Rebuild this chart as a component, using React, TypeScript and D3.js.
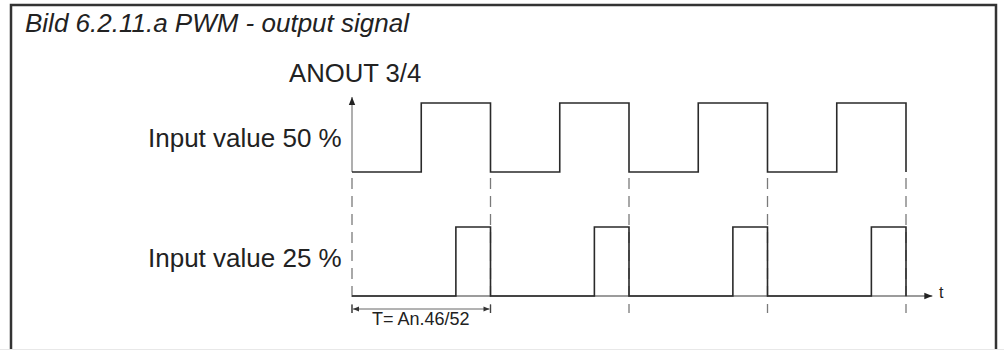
import React from "react";
import * as d3 from "d3";

// ---- data ----
const periods = [0, 1, 2, 3, 4];
const times50 = [0, 0.5, 1, 1.5, 2, 2.5, 3, 3.5, 4];
const levels50 = [0, 1, 0, 1, 0, 1, 0, 1, 0];
const times25 = [0, 0.75, 1, 1.75, 2, 2.75, 3, 3.75, 4];
const levels25 = [0, 1, 0, 1, 0, 1, 0, 1, 0];
const timeAxisEnd = 4.19;
const titleText = "Bild 6.2.11.a PWM - output signal";
const yAxisLabel = "ANOUT 3/4";
const rowLabels = ["Input value 50 %", "Input value 25 %"];
const periodLabel = "T= An.46/52";
const timeLabel = "t";

const W = 1004;
const H = 350;
const FONT = "'Liberation Sans', Arial, Helvetica, sans-serif";

export default function App() {
  const x = d3.scaleLinear().domain([0, 4]).range([352, 906]);
  const y50 = d3.scaleLinear().domain([0, 1]).range([172, 103]);
  const y25 = d3.scaleLinear().domain([0, 1]).range([296, 227]);

  const line50 = d3
    .line<number>()
    .x((_, i) => x(times50[i]))
    .y((d) => y50(d))
    .curve(d3.curveStepAfter);
  const line25 = d3
    .line<number>()
    .x((_, i) => x(times25[i]))
    .y((d) => y25(d))
    .curve(d3.curveStepAfter);

  const sig = "#2a2a2a";
  const ax = "#7a7a7a";

  return (
    <svg
      width={W}
      height={H}
      style={{ position: "absolute", left: 0, top: 0, display: "block" }}
      fontFamily={FONT}
    >
      <defs>
        <marker id="arr" viewBox="0 0 10 10" refX="10" refY="5" markerWidth="10" markerHeight="8" markerUnits="userSpaceOnUse" orient="auto">
          <path d="M0,1 L10,5 L0,9 Z" fill="#222" />
        </marker>
        <marker id="arrS" viewBox="0 0 10 10" refX="10" refY="5" markerWidth="9" markerHeight="6" markerUnits="userSpaceOnUse" orient="auto-start-reverse">
          <path d="M0,1 L10,5 L0,9 Z" fill="#333" />
        </marker>
      </defs>
      <rect x={0} y={0} width={W} height={H} fill="#fff" />
      {/* frame */}
      <path d={`M11,${H + 5} L11,5 L996,5 L996,${H + 5}`} fill="none" stroke="#333" strokeWidth={2.5} />
      <line x1={0} x2={W} y1={349.5} y2={349.5} stroke="#e8e8e8" strokeWidth={1} />

      {/* title */}
      <text x={25} y={32} fontSize={26} fontStyle="italic" fill="#222">
        {titleText}
      </text>
      <text x={289} y={82} fontSize={25.7} fill="#222">
        {yAxisLabel}
      </text>
      <text x={148} y={147} fontSize={26} fill="#222">
        {rowLabels[0]}
      </text>
      <text x={148} y={267} fontSize={26} fill="#222">
        {rowLabels[1]}
      </text>

      {/* vertical axis */}
      <line x1={x(0)} x2={x(0)} y1={y50(0)} y2={97} stroke={ax} strokeWidth={1.2} markerEnd="url(#arr)" />

      {/* dashed period lines */}
      {periods.map((p) => (
        <line
          key={p}
          x1={x(p)}
          x2={x(p)}
          y1={178}
          y2={313}
          stroke={ax}
          strokeWidth={1.3}
          strokeDasharray="11,7"
        />
      ))}

      {/* time axis */}
      <line x1={x(0)} x2={x(timeAxisEnd)} y1={y25(0)} y2={y25(0)} stroke={ax} strokeWidth={1.3} markerEnd="url(#arr)" />
      <text x={939} y={298} fontSize={16} fill="#222">
        {timeLabel}
      </text>

      {/* signals */}
      <path d={line50(levels50) || ""} fill="none" stroke={sig} strokeWidth={1.6} />
      <path d={line25(levels25) || ""} fill="none" stroke={sig} strokeWidth={1.6} />

      {/* period dimension */}
      <line x1={x(0)} x2={x(0)} y1={305} y2={313} stroke="#444" strokeWidth={1.2} />
      <line x1={x(1)} x2={x(1)} y1={305} y2={313} stroke="#444" strokeWidth={1.2} />
      <line
        x1={x(0) + 1}
        x2={x(1) - 1}
        y1={309}
        y2={309}
        stroke="#666"
        strokeWidth={1}
        markerStart="url(#arrS)"
        markerEnd="url(#arrS)"
      />
      <text x={372} y={325} fontSize={18} fill="#222">
        {periodLabel}
      </text>
    </svg>
  );
}
